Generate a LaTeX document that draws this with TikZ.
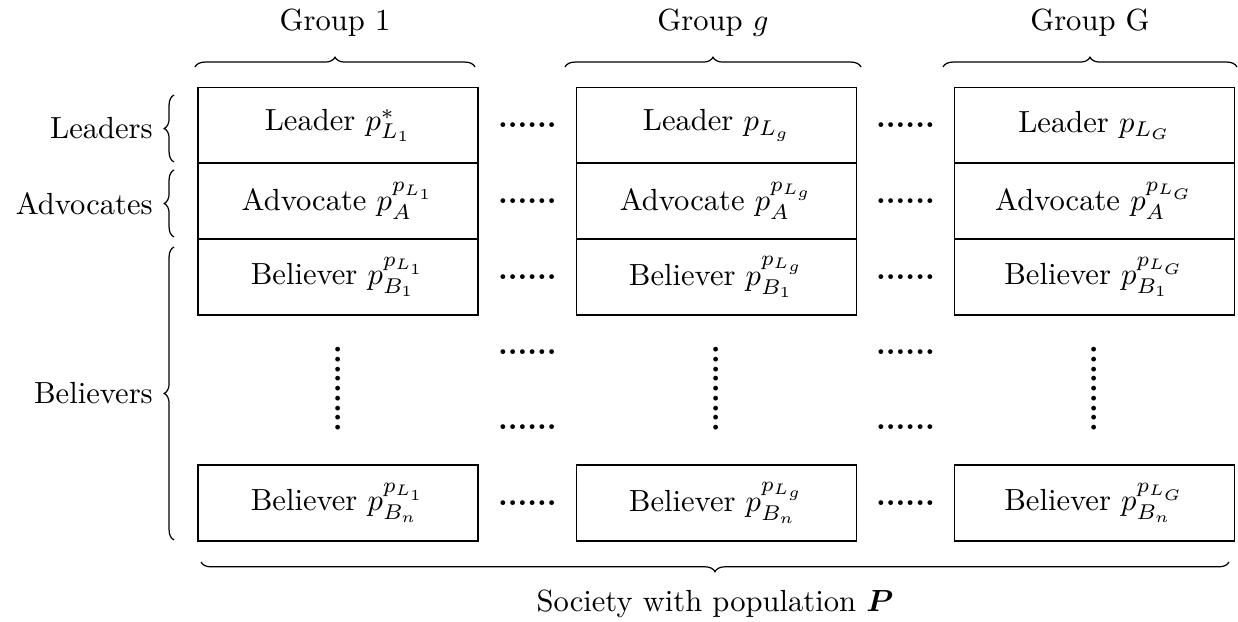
\documentclass[tikz,border=0pt]{standalone}
\usepackage{bm}
\usetikzlibrary{decorations.pathreplacing}

\begin{document}
\begin{tikzpicture}[
    cell/.style={draw, minimum width=3.22cm, minimum height=0.874cm, inner sep=0pt},
    hdots/.style={inner sep=0pt, font=\bfseries},
    vdotsnode/.style={inner sep=0pt, rotate=90, font=\bfseries},
    grpbrace/.style={decorate, decoration={brace, amplitude=3.2pt}}
  ]
  \useasboundingbox (0,0) rectangle (14.23,7.149);

  % 第 1 组
  \node[cell] (L1)  at (3.885,5.707) {Leader $p^*_{L_1}$};
  \node[cell] (A1)  at (3.885,4.839) {Advocate $p_A^{p_{L_1}}$};
  \node[cell] (B1)  at (3.885,3.966) {Believer $p_{B_1}^{p_{L_1}}$};
  \node[cell] (Bn1) at (3.885,1.368) {Believer $p_{B_n}^{p_{L_1}}$};

  % 第 g 组
  \node[cell] (Lg)  at (8.236,5.707) {Leader $p_{L_g}$};
  \node[cell] (Ag)  at (8.236,4.839) {Advocate $p_A^{p_{L_g}}$};
  \node[cell] (Bg)  at (8.236,3.966) {Believer $p_{B_1}^{p_{L_g}}$};
  \node[cell] (Bng) at (8.236,1.368) {Believer $p_{B_n}^{p_{L_g}}$};

  % 第 G 组
  \node[cell] (LG)  at (12.580,5.707) {Leader $p_{L_G}$};
  \node[cell] (AG)  at (12.580,4.839) {Advocate $p_A^{p_{L_G}}$};
  \node[cell] (BG)  at (12.580,3.966) {Believer $p_{B_1}^{p_{L_G}}$};
  \node[cell] (BnG) at (12.580,1.368) {Believer $p_{B_n}^{p_{L_G}}$};

  % 组间省略号
  \node[hdots] (d11) at (6.063,5.707) {......};
  \node[hdots] (d12) at (6.063,4.839) {......};
  \node[hdots] (d13) at (6.063,3.966) {......};
  \node[hdots] (d14) at (6.063,3.103) {......};
  \node[hdots] (d15) at (6.063,2.241) {......};
  \node[hdots] (d16) at (6.063,1.368) {......};
  \node[hdots] (d21) at (10.408,5.707) {......};
  \node[hdots] (d22) at (10.408,4.839) {......};
  \node[hdots] (d23) at (10.408,3.966) {......};
  \node[hdots] (d24) at (10.408,3.103) {......};
  \node[hdots] (d25) at (10.408,2.241) {......};
  \node[hdots] (d26) at (10.408,1.368) {......};

  % 组内竖向省略号
  \node[vdotsnode] (v1) at (3.885,2.68) {.........};
  \node[vdotsnode] (vg) at (8.236,2.68) {.........};
  \node[vdotsnode] (vG) at (12.580,2.68) {.........};

  % 顶部分组括号
  \draw[grpbrace] (2.241,6.379) -- (5.460,6.379) node[midway, above=0.23cm] (g1) {Group 1};
  \draw[grpbrace] (6.494,6.379) -- (9.897,6.379) node[midway, above=0.23cm] (gg) {Group $g$};
  \draw[grpbrace] (10.839,6.379) -- (14.218,6.379) node[midway, above=0.23cm] (gG) {Group G};

  % 左侧角色括号
  \draw[grpbrace] (2.0,5.287) -- (2.0,6.057) node[midway, left=0.12cm] (rL) {Leaders};
  \draw[grpbrace] (2.0,4.425) -- (2.0,5.195) node[midway, left=0.12cm] (rA) {Advocates};
  \draw[grpbrace] (2.0,0.943) -- (2.0,4.310) node[midway, left=0.12cm] (rB) {Believers};

  % 底部总括号
  \draw[grpbrace] (14.126,0.69) -- (2.310,0.69) node[midway, below=0.2cm] (soc) {Society with population $\bm{P}$};
\end{tikzpicture}
\end{document}
